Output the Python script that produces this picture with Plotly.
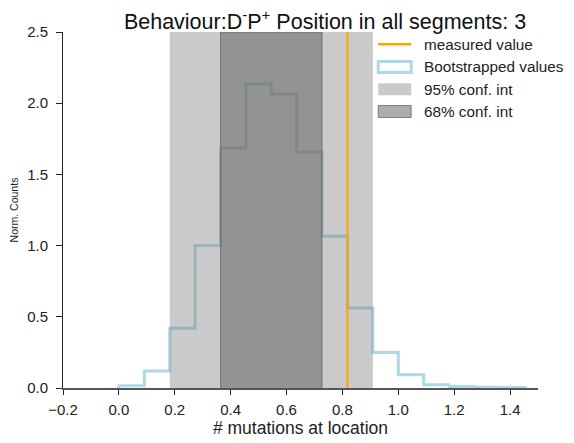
import plotly.graph_objects as go

# ── Data ───────────────────────────────────────────────────────
BIN_WIDTH = 1 / 11
BIN_EDGES = [i * BIN_WIDTH for i in range(17)]
HEIGHTS = [0.016, 0.12, 0.42, 1.0, 1.685, 2.137, 2.065, 1.657, 1.065,
           0.562, 0.25, 0.093, 0.023, 0.011, 0.005, 0.003]
MEASURED = 0.818
CI95 = [0.182, 0.909]
CI68 = [0.364, 0.727]
YMAX = 2.5
X_TICKS = [-0.2, 0.0, 0.2, 0.4, 0.6, 0.8, 1.0, 1.2, 1.4]
Y_TICKS = [0.0, 0.5, 1.0, 1.5, 2.0, 2.5]
LEGEND_LABELS = ["measured value", "Bootstrapped values", "95% conf. int", "68% conf. int"]

FONT = "Arial, Liberation Sans, sans-serif"
BLUE = "#add8e6"
ORANGE = "#ffa500"
FILL95 = "rgba(128,128,128,0.42)"
FILL68 = "rgba(100,100,100,0.535)"
EDGE68 = "rgba(90,90,90,0.7)"

# page has an 8px body margin; figure sized so it ends at the window edge
PAGE_OFF = 8
FIG_W, FIG_H = 574 - PAGE_OFF, 443 - PAGE_OFF
# plot area in window pixels
PX_L, PX_R, PX_T, PX_B = 63.3, 538.3, 32.3, 388.3


def px_x(px):
    return (px - PX_L) / (PX_R - PX_L)


def px_y(py):
    return (PX_B - py) / (PX_B - PX_T)


fig = go.Figure()

# step histogram outline (hv steps)
hx = [BIN_EDGES[0]] + BIN_EDGES + [BIN_EDGES[-1]]
hy = [0] + HEIGHTS + [HEIGHTS[-1], 0]
fig.add_trace(go.Scatter(
    x=hx, y=hy, mode="lines", line=dict(color=BLUE, width=3, shape="hv"),
    name=LEGEND_LABELS[1], showlegend=False,
))

# confidence intervals, drawn over the histogram
fig.add_trace(go.Scatter(
    x=[CI95[0], CI95[0], CI95[1], CI95[1]], y=[0, YMAX, YMAX, 0],
    mode="lines", fill="toself", fillcolor=FILL95, line=dict(width=0),
    name=LEGEND_LABELS[2], showlegend=False,
))
fig.add_trace(go.Scatter(
    x=[CI68[0], CI68[0], CI68[1], CI68[1]], y=[0, YMAX, YMAX, 0],
    mode="lines", fill="toself", fillcolor=FILL68, line=dict(color=EDGE68, width=1),
    name=LEGEND_LABELS[3], showlegend=False,
))

# measured value
fig.add_trace(go.Scatter(
    x=[MEASURED, MEASURED], y=[0, YMAX], mode="lines",
    line=dict(color=ORANGE, width=2),
    name=LEGEND_LABELS[0], showlegend=False,
))

# ── hand-built legend (matplotlib style patches) ──
row_y = [44.5, 67.3, 89.5, 111.8]
kx0, kx1 = px_x(378.5), px_x(411.5)
fig.add_shape(type="line", xref="paper", yref="paper", x0=kx0, x1=kx1,
              y0=px_y(row_y[0]), y1=px_y(row_y[0]), line=dict(color=ORANGE, width=2.5))
fig.add_shape(type="rect", xref="paper", yref="paper", x0=kx0, x1=kx1,
              y0=px_y(row_y[1] + 5.5), y1=px_y(row_y[1] - 5.5),
              fillcolor="white", line=dict(color=BLUE, width=3))
fig.add_shape(type="rect", xref="paper", yref="paper", x0=kx0, x1=kx1,
              y0=px_y(row_y[2] + 6), y1=px_y(row_y[2] - 6),
              fillcolor=FILL95, line=dict(width=0))
fig.add_shape(type="rect", xref="paper", yref="paper", x0=kx0, x1=kx1,
              y0=px_y(row_y[3] + 6), y1=px_y(row_y[3] - 6),
              fillcolor=FILL68, line=dict(color=EDGE68, width=1))
for label, ry in zip(LEGEND_LABELS, row_y):
    fig.add_annotation(text=label, xref="paper", yref="paper", x=px_x(422), y=px_y(ry),
                       xanchor="left", yanchor="middle", showarrow=False,
                       font=dict(size=15.3, color="#222", family=FONT))

fig.update_xaxes(
    range=[-0.2, 1.5], tickvals=X_TICKS, tickformat=".1f", automargin=False,
    showgrid=False, zeroline=False, showline=True, linecolor="#555", linewidth=1.5,
    ticks="outside", ticklen=5, tickcolor="#222", ticklabelstandoff=2,
    tickfont=dict(size=15, color="#222", family=FONT),
    title=dict(text="# mutations at location", font=dict(size=17.5, color="#222", family=FONT),
               standoff=3),
)
fig.update_yaxes(
    range=[0, YMAX], tickvals=Y_TICKS, tickformat=".1f", automargin=False,
    showgrid=False, zeroline=False, showline=True, linecolor="#222", linewidth=1,
    ticks="outside", ticklen=6, tickcolor="#222", ticklabelstandoff=5,
    tickfont=dict(size=15, color="#222", family=FONT),
    title=dict(text="Norm. Counts", font=dict(size=10.5, color="#222", family=FONT),
               standoff=6),
)
fig.update_layout(
    width=FIG_W, height=FIG_H,
    margin=dict(l=PX_L - PAGE_OFF, r=FIG_W - (PX_R - PAGE_OFF), t=PX_T - PAGE_OFF,
                b=FIG_H - (PX_B - PAGE_OFF)),
    plot_bgcolor="white", paper_bgcolor="white",
    font=dict(family=FONT, color="#222"),
    showlegend=False,
    title=dict(
        text="Behaviour:D<sup>-</sup>P<sup>+</sup> Position in all segments: 3",
        x=(325 - PAGE_OFF) / FIG_W, xanchor="center", y=1 - (21 - PAGE_OFF) / FIG_H,
        yanchor="middle",
        font=dict(size=21.5, color="#111", family=FONT),
    ),
)

fig.write_html("out.html")
